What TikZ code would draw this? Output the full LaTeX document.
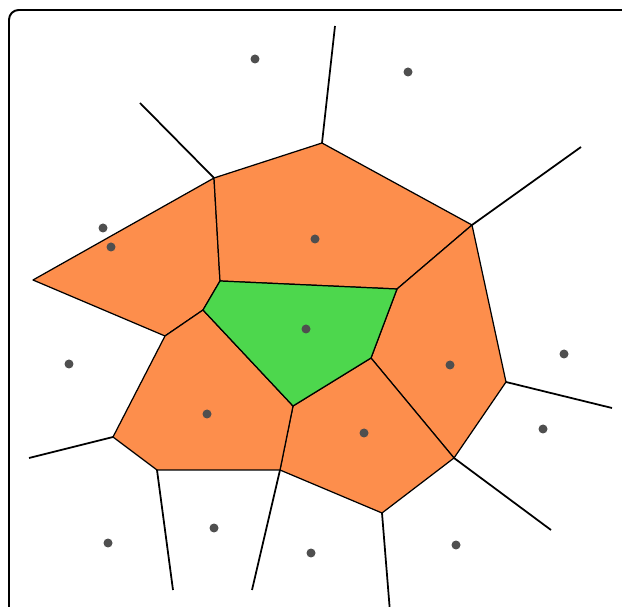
\documentclass[tikz,border=0pt]{standalone}
\usepackage{tikz}
\usetikzlibrary{calc}
\definecolor{vorange}{HTML}{FD8E4C}
\definecolor{vgreen}{HTML}{4DD74D}
\definecolor{vsite}{HTML}{4F4F4F}

\begin{document}
\begin{tikzpicture}[x=0.02cm, y=-0.02cm,
  cell/.style={fill=vorange, draw=black, line width=0.7pt, line join=round},
  target/.style={fill=vgreen, draw=black, line width=0.7pt, line join=round},
  ray/.style={draw=black, line width=1pt},
  site/.style={circle, fill=vsite, inner sep=0pt, minimum size=0.18cm}]
\useasboundingbox (0,0) rectangle (622,607);
\clip (0,0) rectangle (622,607);
\draw[line width=1.1pt, rounded corners=5.5pt] (9,10) rectangle (700,700);

% hull vertices
\coordinate (vA) at (33,280);
\coordinate (vB) at (214,178);
\coordinate (vC) at (322,143);
\coordinate (vD) at (472,225);
\coordinate (vE) at (506,382);
\coordinate (vF) at (454,458);
\coordinate (vG) at (382,513);
\coordinate (vH) at (280,470);
\coordinate (vI) at (157,470);
\coordinate (vJ) at (113,437);
\coordinate (vK) at (165,336);
% inner cell
\coordinate (g1) at (220,281);
\coordinate (g2) at (397,289);
\coordinate (g3) at (371,358);
\coordinate (g4) at (293,406);
\coordinate (g5) at (203,310);

% neighbour cells
\draw[cell] (vA) -- (vB) -- (g1) -- (g5) -- (vK) -- cycle;
\draw[cell] (vB) -- (vC) -- (vD) -- (g2) -- (g1) -- cycle;
\draw[cell] (vD) -- (vE) -- (vF) -- (g3) -- (g2) -- cycle;
\draw[cell] (g3) -- (vF) -- (vG) -- (vH) -- (g4) -- cycle;
\draw[cell] (g5) -- (g4) -- (vH) -- (vI) -- (vJ) -- (vK) -- cycle;
\draw[target] (g1) -- (g2) -- (g3) -- (g4) -- (g5) -- cycle;

% unbounded edges
\coordinate (rB) at (140,103);
\coordinate (rC) at (335,26);
\coordinate (rD) at (581,147);
\coordinate (rE) at (612,408);
\coordinate (rF) at (551,530);
\coordinate (rG) at (390,612);
\coordinate (rH) at (252,590);
\coordinate (rI) at (173,590);
\coordinate (rJ) at (29,458);
\foreach \v in {B,C,D,E,F,G,H,I,J}
  \draw[ray] (v\v) -- (r\v);

% sites
\foreach \x/\y [count=\i] in {306/329, 111/247, 315/239, 450/365, 364/433, 207/414,
    255/59, 408/72, 103/228, 69/364, 564/354, 543/429, 456/545, 311/553, 214/528, 108/543}
  \node[site] (s\i) at (\x,\y) {};
\end{tikzpicture}
\end{document}
